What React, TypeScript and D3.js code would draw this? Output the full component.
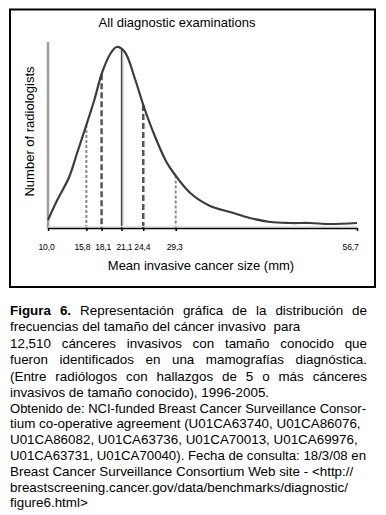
import React, { useRef, useEffect } from "react";
import * as d3 from "d3";

// curve: mean invasive cancer size (mm) vs number of radiologists
const sizesMm = [10.0, 11.4, 13.2, 14.4, 15.7, 17.0, 18.2, 19.5, 20.4, 21.6, 23.2, 24.5, 26.2, 27.9, 29.0, 31.5, 34.5, 37.5, 40.5, 43.6, 46.6, 49.6, 52.6, 56.7];
const radiologists = [8, 28, 51, 75, 101, 128, 156, 175, 181, 176, 148, 121, 91, 66, 55, 35, 22, 16, 10, 6, 5, 5, 4, 5];

const tickValues = [10.0, 15.8, 18.1, 21.1, 24.4, 29.3, 56.7];
const tickLabels = ["10,0", "15,8", "18,1", "21,1", "24,4", "29,3", "56,7"];
// small horizontal nudges of the labels, as in the source
const tickLabelNudge = [-2, -4.5, 1, 2.5, -1.5, -1.5, 1];

// vertical reference lines (percentiles)
const markerValues = [10.0, 15.8, 18.1, 21.1, 24.4, 29.3];
const markerKinds = ["axis", "light", "dark", "median", "dark", "light"];

const chartTitle = "All diagnostic examinations";
const xTitle = "Mean invasive cancer size (mm)";
const yTitle = "Number of radiologists";

const captionLines = [
  "Figura 6.| Representación gráfica de la distribución de",
  "frecuencias del tamaño del cáncer invasivo  para",
  "12,510 cánceres invasivos con tamaño conocido que",
  "fueron identificados en una mamografías diagnóstica.",
  "(Entre radiólogos con hallazgos de 5 o más cánceres",
  "invasivos de tamaño conocido), 1996-2005.",
];
const captionJustified = [true, false, true, true, true, false];

const sourceLines = [
  "Obtenido de: NCI-funded Breast Cancer Surveillance Consor-",
  "tium co-operative agreement (U01CA63740, U01CA86076,",
  "U01CA86082, U01CA63736, U01CA70013, U01CA69976,",
  "U01CA63731, U01CA70040). Fecha de consulta: 18/3/08 en",
  "Breast Cancer Surveillance Consortium Web site - <http://",
  "breastscreening.cancer.gov/data/benchmarks/diagnostic/",
  "figure6.html>",
];

const FONT = "'Liberation Sans', Arial, sans-serif";

const markerStyle: Record<string, { color: string; width: number; dash: string | null }> = {
  axis: { color: "#9c9c9c", width: 2.5, dash: null },
  light: { color: "#8a8a8a", width: 2, dash: "3,2" },
  dark: { color: "#555", width: 2.5, dash: "6,3" },
  median: { color: "#444", width: 1.2, dash: null },
};

function curveAt(v: number) {
  const i = d3.bisectLeft(sizesMm, v);
  if (i <= 0) return radiologists[0];
  if (i >= sizesMm.length) return radiologists[radiologists.length - 1];
  const t = (v - sizesMm[i - 1]) / (sizesMm[i] - sizesMm[i - 1]);
  return radiologists[i - 1] + t * (radiologists[i] - radiologists[i - 1]);
}

export default function App() {
  const svgRef = useRef<SVGSVGElement>(null);

  useEffect(() => {
    const svg = d3.select(svgRef.current);
    svg.selectAll("*").remove();

    svg.append("rect").attr("width", 386).attr("height", 515).attr("fill", "#fff");

    // frame
    svg.append("rect")
      .attr("x", 10).attr("y", 9.5)
      .attr("width", 365).attr("height", 277.5)
      .attr("fill", "none").attr("stroke", "#000").attr("stroke-width", 2);

    const x = d3.scaleLinear().domain([10, 56.7]).range([48, 357]);
    const y = d3.scaleLinear().domain([0, 186]).range([228, 42]);

    // vertical markers
    markerValues.forEach((v, i) => {
      const st = markerStyle[markerKinds[i]];
      const top = markerKinds[i] === "axis" ? y.domain()[1] : curveAt(v);
      if (markerKinds[i] === "median") {
        svg.append("line")
          .attr("x1", x(v) + 1.2).attr("x2", x(v) + 1.2)
          .attr("y1", y(top)).attr("y2", y(0))
          .attr("stroke", "#b4b4b4").attr("stroke-width", 1.5);
      }
      const ln = svg.append("line")
        .attr("x1", x(v)).attr("x2", x(v))
        .attr("y1", y(top)).attr("y2", y(0))
        .attr("stroke", st.color).attr("stroke-width", st.width);
      if (st.dash) ln.attr("stroke-dasharray", st.dash);
    });

    // faint baseline
    svg.append("line")
      .attr("x1", x(10)).attr("x2", x(56.7))
      .attr("y1", y(0) - 1.5).attr("y2", y(0) - 1.5)
      .attr("stroke", "#dcdcf2").attr("stroke-width", 1);

    // curve
    const line = d3.line<number>()
      .x((d) => x(d))
      .y((d, i) => y(radiologists[i]))
      .curve(d3.curveCatmullRom.alpha(0.5));
    svg.append("path")
      .datum(sizesMm)
      .attr("fill", "none")
      .attr("stroke", "#3c3c3c")
      .attr("stroke-width", 2.2)
      .attr("d", line);

    // x axis
    const xAxis = svg.append("g")
      .attr("transform", `translate(0,${y(0)})`)
      .call(
        d3.axisBottom(x)
          .tickValues(tickValues)
          .tickSize(3)
          .tickSizeOuter(0)
          .tickPadding(13)
          .tickFormat((d, i) => tickLabels[i])
      );
    xAxis.select(".domain").attr("stroke", "#000").attr("stroke-width", 1.5);
    xAxis.selectAll(".tick line").attr("stroke", "#000").attr("stroke-width", 1.5);
    xAxis.selectAll(".tick text")
      .attr("font-family", FONT).attr("font-size", 8.6).attr("fill", "#000")
      .attr("letter-spacing", -0.2)
      .attr("text-anchor", (d, i) => (i === tickValues.length - 1 ? "end" : "middle"))
      .attr("dx", (d, i) => tickLabelNudge[i]);

    // titles
    svg.append("text")
      .attr("x", 177).attr("y", 27.3)
      .attr("text-anchor", "middle")
      .attr("font-family", FONT).attr("font-size", 13)
      .text(chartTitle);
    svg.append("text")
      .attr("x", 201).attr("y", 269.5)
      .attr("text-anchor", "middle")
      .attr("font-family", FONT).attr("font-size", 13)
      .text(xTitle);
    svg.append("text")
      .attr("transform", "translate(34,131.5) rotate(-90)")
      .attr("text-anchor", "middle")
      .attr("font-family", FONT).attr("font-size", 13)
      .text(yTitle);

    // caption, justified like the source
    captionLines.forEach((txt, i) => {
      const t = svg.append("text")
        .attr("x", 10).attr("y", 315 + i * 16.4)
        .attr("font-family", FONT).attr("font-size", 13.4)
        .style("white-space", "pre");
      const parts = txt.split("|");
      if (parts.length > 1) {
        t.append("tspan").attr("font-weight", "bold").text(parts[0]);
        t.append("tspan").text(parts[1]);
      } else {
        t.text(txt);
      }
      if (captionJustified[i]) {
        const node = t.node() as SVGTextElement;
        const natural = node.getComputedTextLength();
        const spaces = (txt.match(/ /g) || []).length;
        if (spaces > 0 && natural < 357) t.attr("word-spacing", (357 - natural) / spaces);
        if (natural > 357) t.attr("textLength", 357).attr("lengthAdjust", "spacingAndGlyphs");
      }
    });

    sourceLines.forEach((txt, i) => {
      const t = svg.append("text")
        .attr("x", 10).attr("y", 412.5 + i * 15.8)
        .attr("font-family", FONT).attr("font-size", 13.4)
        .text(txt);
      const natural = (t.node() as SVGTextElement).getComputedTextLength();
      if (natural > 356) t.attr("textLength", 356).attr("lengthAdjust", "spacingAndGlyphs");
    });
  }, []);

  return (
    <svg
      ref={svgRef}
      width={386}
      height={515}
      style={{ position: "absolute", left: 0, top: 0 }}
    />
  );
}
